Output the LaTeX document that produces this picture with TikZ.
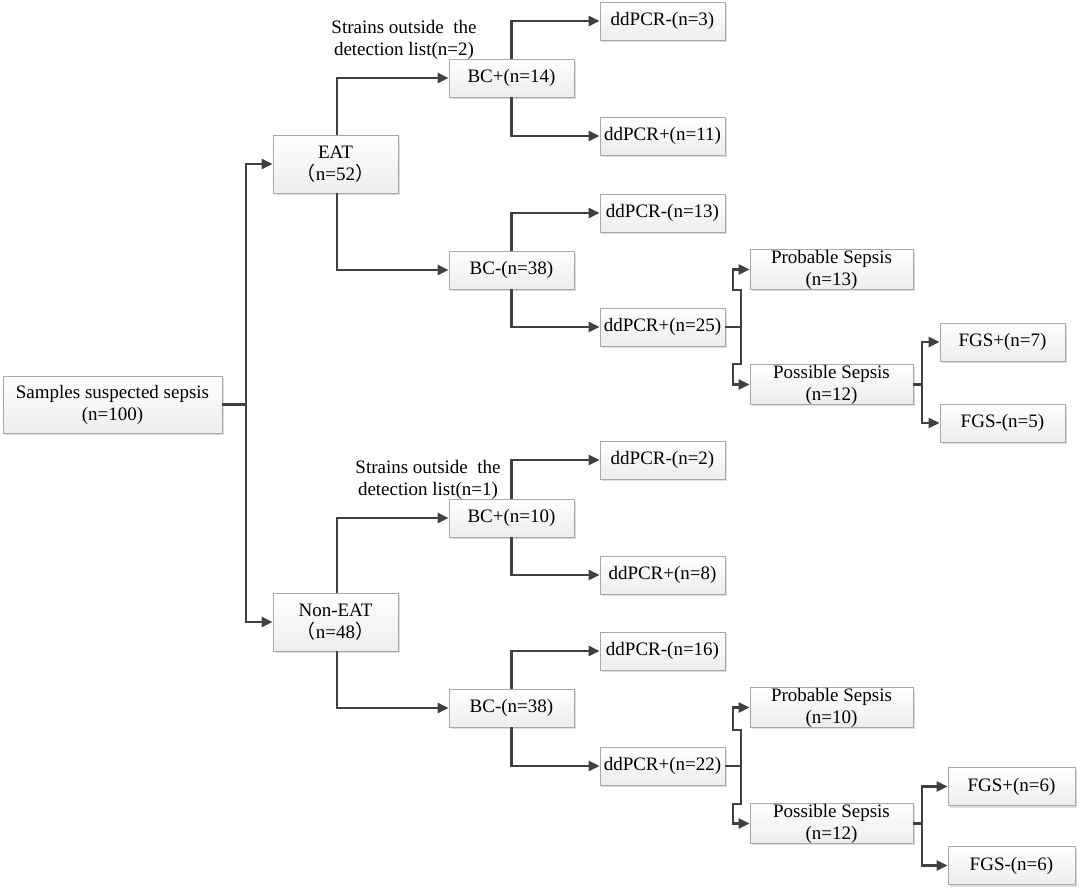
\documentclass[tikz,border=0pt]{standalone}
\usepackage{fontspec}
\setmainfont{Liberation Serif}
\newfontfamily\cjk{Noto Sans CJK SC}
\usetikzlibrary{arrows.meta,shadows}
\definecolor{linec}{HTML}{404040}
\definecolor{boxline}{HTML}{A8A8A8}
\tikzset{
  box/.style={draw=boxline, line width=0.8pt, top color=white, bottom color=gray!14,
    minimum width=125pt, minimum height=38pt, inner sep=1pt, align=center,
    font=\fontsize{19}{22}\selectfont,
    drop shadow={shadow xshift=2pt, shadow yshift=-2pt, fill=gray!45, opacity=0.6}},
  conn/.style={draw=linec, line width=2.2pt},
  arr/.style={conn, -{Triangle[length=11pt,width=10pt]}},
  note/.style={font=\fontsize{19}{22}\selectfont, align=center, inner sep=0pt}
}
\begin{document}
\begin{tikzpicture}[x=1pt,y=-1pt]
\useasboundingbox (0,0) rectangle (1080,891);
% nodes
\node[box, minimum width=219pt, minimum height=57pt] (root) at (112.5,404.5) {Samples suspected sepsis\\(n=100)};
\node[box, minimum height=58pt] (eat) at (335.5,164) {EAT\\{\cjk （}n=52{\cjk ）}};
\node[box, minimum height=58pt] (neat) at (335.5,622) {Non-EAT\\{\cjk （}n=48{\cjk ）}};
% upper
\node[box] (bcp1) at (511.5,78) {BC+(n=14)};
\node[box] (dm3) at (662.5,21) {ddPCR-(n=3)};
\node[box] (dp11) at (662.5,136) {ddPCR+(n=11)};
\node[box] (bcm1) at (511.5,270) {BC-(n=38)};
\node[box] (dm13) at (662.5,213) {ddPCR-(n=13)};
\node[box] (dp25) at (662.5,327) {ddPCR+(n=25)};
\node[box, minimum width=163pt, minimum height=39pt, inner sep=0pt] (prob1) at (831.5,269.5) {Probable Sepsis\\(n=13)};
\node[box, minimum width=163pt, minimum height=39pt, inner sep=0pt] (poss1) at (831.5,384.5) {Possible Sepsis\\(n=12)};
\node[box] (fgsp7) at (1002.5,342) {FGS+(n=7)};
\node[box] (fgsm5) at (1002.5,423) {FGS-(n=5)};
\node[note] (lab1) at (404,40) {Strains outside\ \ the\\detection list(n=2)};
% lower
\node[box] (bcp2) at (511.5,518) {BC+(n=10)};
\node[box] (dm2) at (662.5,460) {ddPCR-(n=2)};
\node[box] (dp8) at (662.5,575) {ddPCR+(n=8)};
\node[box] (bcm2) at (511.5,708) {BC-(n=38)};
\node[box] (dm16) at (662.5,651) {ddPCR-(n=16)};
\node[box] (dp22) at (662.5,766) {ddPCR+(n=22)};
\node[box, minimum width=163pt, minimum height=39pt, inner sep=0pt] (prob2) at (831.5,707.5) {Probable Sepsis\\(n=10)};
\node[box, minimum width=163pt, minimum height=39pt, inner sep=0pt] (poss2) at (831.5,823.5) {Possible Sepsis\\(n=12)};
\node[box, minimum width=127pt] (fgsp6) at (1011.5,786.5) {FGS+(n=6)};
\node[box, minimum width=127pt] (fgsm6) at (1011.5,865.5) {FGS-(n=6)};
\node[note] (lab2) at (428,480) {Strains outside\ \ the\\detection list(n=1)};
% junctions
\coordinate (j0) at (246,404.5);
\coordinate (j1) at (741,327);
\coordinate (j2) at (922,384.5);
\coordinate (j3) at (741,766);
\coordinate (j4) at (922,823.5);
% connectors
\draw[conn] (root.east) -- (j0);
\draw[arr] (j0) |- (eat.west);
\draw[arr] (j0) |- (neat.west);
\draw[arr] (eat.north -| 337,0) |- (bcp1.west);
\draw[arr] (eat.south -| 337,0) |- (bcm1.west);
\draw[arr] (neat.north -| 337,0) |- (bcp2.west);
\draw[arr] (neat.south -| 337,0) |- (bcm2.west);
\draw[arr] (bcp1.north) |- (dm3.west);
\draw[arr] (bcp1.south) |- (dp11.west);
\draw[arr] (bcm1.north) |- (dm13.west);
\draw[arr] (bcm1.south) |- (dp25.west);
\draw[arr] (bcp2.north) |- (dm2.west);
\draw[arr] (bcp2.south) |- (dp8.west);
\draw[arr] (bcm2.north) |- (dm16.west);
\draw[arr] (bcm2.south) |- (dp22.west);
% brackets
\draw[conn] (dp25.east) -- (j1);
\draw[arr] (j1) -- (741,290) -- (733,290) |- (prob1.west);
\draw[arr] (j1) -- (741,364) -- (733,364) |- (poss1.west);
\draw[conn] (poss1.east) -- (j2);
\draw[arr] (j2) |- (fgsp7.west);
\draw[arr] (j2) |- (fgsm5.west);
\draw[conn] (dp22.east) -- (j3);
\draw[arr] (j3) -- (741,730) -- (733,730) |- (prob2.west);
\draw[arr] (j3) -- (741,804) -- (733,804) |- (poss2.west);
\draw[conn] (poss2.east) -- (j4);
\draw[arr] (j4) |- (fgsp6.west);
\draw[arr] (j4) |- (fgsm6.west);
\end{tikzpicture}
\end{document}
